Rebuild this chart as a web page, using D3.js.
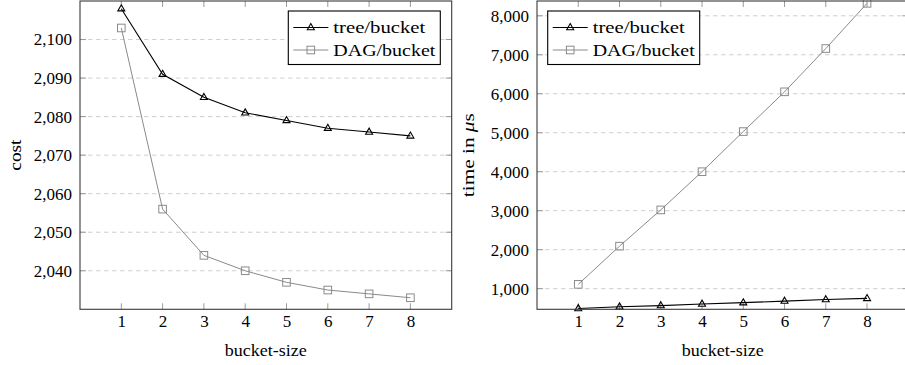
<!DOCTYPE html>
<html>
<head>
<meta charset="utf-8">
<script src="https://cdn.jsdelivr.net/npm/d3@7"></script>
<style>
  body { margin: 0; background: #fff; }
  svg { display: block; font-family: "Liberation Serif", "DejaVu Serif", serif; }
  .grid line { stroke: #cfcfcf; stroke-dasharray: 4.5 3.5; }
  .tick-mark { stroke: #9a9a9a; }
  .frame { fill: none; stroke: #3a3a3a; stroke-width: 1.1; }
</style>
</head>
<body>
<div id="chart"></div>
<script>
// values
var bucketSizes = [1, 2, 3, 4, 5, 6, 7, 8];
var seriesNames = ["tree/bucket", "DAG/bucket"];

var costTree = [2108, 2091, 2085, 2081, 2079, 2077, 2076, 2075];
var costDag = [2103, 2056, 2044, 2040, 2037, 2035, 2034, 2033];
var costTicks = [2040, 2050, 2060, 2070, 2080, 2090, 2100];

var timeTree = [490, 535, 565, 605, 640, 680, 720, 750];
var timeDag = [1110, 2090, 3020, 4000, 5030, 6050, 7160, 8320];
var timeTicks = [1000, 2000, 3000, 4000, 5000, 6000, 7000, 8000];

var width = 905;
var height = 365;
var plotTop = 1, plotBottom = 309.3;

var seriesStyle = [
  { color: "#000", mark: "triangle", width: 1.1 },
  { color: "#8a8a8a", mark: "square", width: 1 }
];

var fmt = d3.format(",");

var svg = d3.select("#chart").append("svg")
  .attr("width", width)
  .attr("height", height);

function drawMark(g, type, color) {
  if (type === "triangle") {
    g.append("path")
      .attr("d", "M0,-3.9L3.5,2.2L-3.5,2.2Z")
      .attr("fill", "none")
      .attr("stroke", color)
      .attr("stroke-width", 1.1);
  } else {
    g.append("rect")
      .attr("x", -3.8).attr("y", -3.8)
      .attr("width", 7.6).attr("height", 7.6)
      .attr("fill", "none")
      .attr("stroke", color)
      .attr("stroke-width", 1);
  }
}

function panel(opts) {
  var x = d3.scaleLinear().domain([0, 9]).range([opts.left, opts.right]);
  var y = d3.scaleLinear().domain(opts.yDomain).range([plotBottom, plotTop]);
  var g = svg.append("g");

  // dashed horizontal grid
  g.append("g").attr("class", "grid")
    .selectAll("line")
    .data(opts.yTicks)
    .enter().append("line")
      .attr("x1", opts.left).attr("x2", opts.right)
      .attr("y1", function(d) { return y(d); })
      .attr("y2", function(d) { return y(d); });

  // inward tick marks on all four sides
  var tm = g.append("g");
  bucketSizes.forEach(function(b) {
    tm.append("line").attr("class", "tick-mark")
      .attr("x1", x(b)).attr("x2", x(b)).attr("y1", plotBottom).attr("y2", plotBottom - 6);
    tm.append("line").attr("class", "tick-mark")
      .attr("x1", x(b)).attr("x2", x(b)).attr("y1", plotTop).attr("y2", plotTop + 6);
  });
  opts.yTicks.forEach(function(t) {
    tm.append("line").attr("class", "tick-mark")
      .attr("x1", opts.left).attr("x2", opts.left + 6).attr("y1", y(t)).attr("y2", y(t));
    tm.append("line").attr("class", "tick-mark")
      .attr("x1", opts.right).attr("x2", opts.right - 6).attr("y1", y(t)).attr("y2", y(t));
  });

  // axes with labels only (lines drawn by frame)
  var xAxis = d3.axisBottom(x).tickValues(bucketSizes).tickSize(0).tickPadding(6);
  var yAxis = d3.axisLeft(y).tickValues(opts.yTicks).tickSize(0).tickPadding(8).tickFormat(fmt);

  var gx = g.append("g").attr("transform", "translate(0," + plotBottom + ")").call(xAxis);
  var gy = g.append("g").attr("transform", "translate(" + opts.left + ",0)").call(yAxis);
  [gx, gy].forEach(function(a) {
    a.attr("font-family", null).attr("font-size", null);
    a.select(".domain").remove();
    a.selectAll("text")
      .attr("fill", "#000")
      .style("font-size", "17px");
  });

  // series
  var line = d3.line()
    .x(function(d, i) { return x(bucketSizes[i]); })
    .y(function(d) { return y(d); });

  opts.series.forEach(function(vals, si) {
    var st = seriesStyle[si];
    g.append("path")
      .datum(vals)
      .attr("d", line)
      .attr("fill", "none")
      .attr("stroke", st.color)
      .attr("stroke-width", st.width);
  });
  opts.series.forEach(function(vals, si) {
    var st = seriesStyle[si];
    vals.forEach(function(v, i) {
      var m = g.append("g").attr("transform", "translate(" + x(bucketSizes[i]) + "," + y(v) + ")");
      drawMark(m, st.mark, st.color);
    });
  });

  g.append("rect").attr("class", "frame")
    .attr("x", opts.left).attr("y", plotTop)
    .attr("width", opts.right - opts.left)
    .attr("height", plotBottom - plotTop);

  // legend
  var lg = g.append("g").attr("transform", "translate(" + opts.legend[0] + "," + opts.legend[1] + ")");
  lg.append("rect")
    .attr("width", 152).attr("height", 53.5)
    .attr("fill", "#fff")
    .attr("stroke", "#000")
    .attr("stroke-width", 1.1);
  seriesNames.forEach(function(name, si) {
    var st = seriesStyle[si];
    var cy = 16.5 + si * 22.5;
    lg.append("line")
      .attr("x1", 5).attr("x2", 40)
      .attr("y1", cy).attr("y2", cy)
      .attr("stroke", st.color)
      .attr("stroke-width", st.width);
    drawMark(lg.append("g").attr("transform", "translate(22.5," + cy + ")"), st.mark, st.color);
    lg.append("text")
      .attr("x", 45).attr("y", cy)
      .attr("dy", "0.33em")
      .attr("textLength", si === 0 ? 92 : 102)
      .attr("lengthAdjust", "spacingAndGlyphs")
      .style("font-size", "17px")
      .text(name);
  });

  // axis titles
  g.append("text")
    .attr("x", (opts.left + opts.right) / 2)
    .attr("y", 356)
    .attr("text-anchor", "middle")
    .attr("textLength", 82)
    .attr("lengthAdjust", "spacingAndGlyphs")
    .style("font-size", "17px")
    .text("bucket-size");

  var yl = g.append("text")
    .attr("transform", "translate(" + opts.yLabelX + "," + ((plotTop + plotBottom) / 2) + ") rotate(-90)")
    .attr("text-anchor", "middle")
    .attr("dy", "0.33em")
    .attr("textLength", opts.yLabelLen)
    .attr("lengthAdjust", "spacingAndGlyphs")
    .style("font-size", "17px");
  opts.yLabel(yl);
}

panel({
  left: 80, right: 451.7,
  yDomain: [2030, 2110],
  yTicks: costTicks,
  series: [costTree, costDag],
  legend: [288.3, 11],
  yLabelX: 15,
  yLabelLen: 31,
  yLabel: function(t) { t.text("cost"); }
});

panel({
  left: 537, right: 908.3,
  yDomain: [470, 8380],
  yTicks: timeTicks,
  series: [timeTree, timeDag],
  legend: [547.7, 11],
  yLabelX: 468,
  yLabelLen: 84,
  yLabel: function(t) {
    t.append("tspan").text("time in ");
    t.append("tspan").style("font-style", "italic").text("\u03bc");
    t.append("tspan").text("s");
  }
});
</script>
</body>
</html>
